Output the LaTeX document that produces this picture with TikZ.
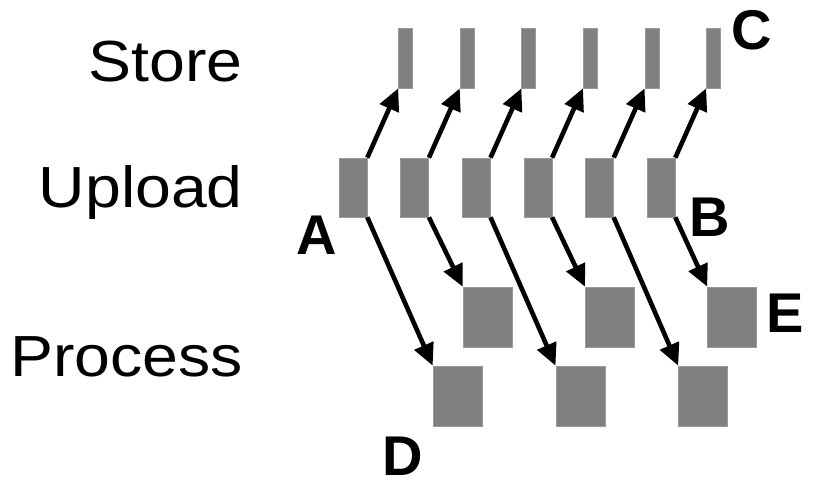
\documentclass[tikz,border=0pt]{standalone}
\usepackage{fontspec}
\setmainfont{Liberation Sans}
\usetikzlibrary{arrows.meta}

\newcommand{\rowtext}[1]{\scalebox{1.11}[1]{\fontsize{58}{62}\selectfont #1}}

\begin{document}
\begin{tikzpicture}[x=1pt,y=-1pt,
    slot/.style={rectangle,fill=black!50,draw=black!40,line width=0.6pt,inner sep=0pt},
    storebar/.style={slot,minimum width=14pt,minimum height=60pt},
    upbox/.style={slot,minimum width=28pt,minimum height=59pt},
    procbox/.style={slot,minimum width=49pt,minimum height=60pt},
    flow/.style={line width=4.6pt,-{Triangle[length=22pt,width=20pt]}},
    rowlabel/.style={anchor=base east,inner sep=0pt},
    tag/.style={inner sep=0pt,font=\fontsize{56}{60}\selectfont\bfseries}]
  \useasboundingbox (0,0) rectangle (817,486);

  % row names
  \node[rowlabel] (store) at (243,82) {\rowtext{Store}};%
  \node[rowlabel] (upload) at (243,208) {\rowtext{Upload}};%
  \node[rowlabel] (process) at (243,377) {\rowtext{Process}};%

  % store slots
  \node[storebar] (S1) at (405.5,58) {};%
  \node[storebar] (S2) at (467.1,58) {};%
  \node[storebar] (S3) at (528.7,58) {};%
  \node[storebar] (S4) at (590.3,58) {};%
  \node[storebar] (S5) at (651.9,58) {};%
  \node[storebar] (S6) at (713.5,58) {};%

  % upload slots
  \node[upbox] (U1) at (353,187.5) {};%
  \node[upbox] (U2) at (414.6,187.5) {};%
  \node[upbox] (U3) at (476.2,187.5) {};%
  \node[upbox] (U4) at (537.8,187.5) {};%
  \node[upbox] (U5) at (599.4,187.5) {};%
  \node[upbox] (U6) at (661,187.5) {};%

  % process slots, two lanes
  \node[procbox] (P1) at (487.5,317) {};%
  \node[procbox] (P2) at (609.8,317) {};%
  \node[procbox] (P3) at (732,317) {};%
  \node[procbox] (Q1) at (457.5,396) {};%
  \node[procbox] (Q2) at (580.3,396) {};%
  \node[procbox] (Q3) at (703,396) {};%

  % upload -> store
  \draw[flow] (U1.north east) -- (S1.south west);%
  \draw[flow] (U2.north east) -- (S2.south west);%
  \draw[flow] (U3.north east) -- (S3.south west);%
  \draw[flow] (U4.north east) -- (S4.south west);%
  \draw[flow] (U5.north east) -- (S5.south west);%
  \draw[flow] (U6.north east) -- (S6.south west);%

  % upload -> process
  \draw[flow] (U1.south east) -- (Q1.north west);%
  \draw[flow] (U2.south east) -- (P1.north west);%
  \draw[flow] (U3.south east) -- (Q2.north west);%
  \draw[flow] (U4.south east) -- (P2.north west);%
  \draw[flow] (U5.south east) -- (Q3.north west);%
  \draw[flow] (U6.south east) -- (P3.north west);%

  \node[tag] (A) at (316.5,235) {A};%
  \node[tag] (B) at (710,217) {B};%
  \node[tag] (C) at (751.5,30.5) {C};%
  \node[tag] (D) at (402.5,456) {D};%
  \node[tag] (E) at (785.5,313.5) {E};%
\end{tikzpicture}
\end{document}
